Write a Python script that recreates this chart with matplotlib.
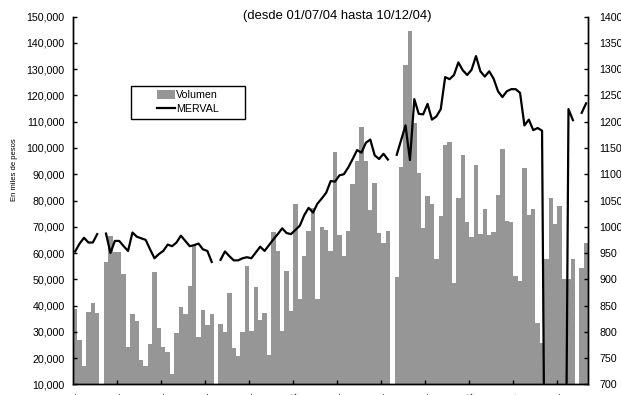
import numpy as np
import matplotlib.pyplot as plt
from matplotlib.patches import Rectangle, Patch
from matplotlib.lines import Line2D
from matplotlib.ticker import FuncFormatter, MultipleLocator

plt.rcParams['font.family'] = ['Liberation Sans', 'DejaVu Sans']

# Volumen diario (miles de pesos), 01/07/04 a 10/12/04; None = feriado
volumen = [
    38700, 26900, 17000, 37500, 41000, 37200, None, 56500, 66500, 60400,
    60400, 52000, 24200, 36800, 34100, 19300, 17000, 25500, 52800, 31400,
    24300, 22400, 13900, 29500, 39500, 36900, 47400, 63000, 28000, 38300,
    32600, 36800, None, 33000, 29900, 44800, 23900, 20900, 29900, 55000,
    30300, 47000, 34500, 37100, 21200, 68000, 60800, 30300, 53100, 37900,
    78700, 42500, 58900, 68400, 77300, 42500, 69900, 68800, 60900, 98500,
    66800, 58900, 68400, 86300, 95100, 107900, 95000, 76400, 86600, 67500,
    63800, 68400, None, 50900, 92700, 131600, 144500, 109500, 90500, 69500,
    81700, 78700, 57700, 74100, 101100, 102300, 48600, 80900, 97300, 71800,
    66100, 93500, 67200, 76800, 66900, 68000, 82100, 99600, 72200, 71800,
    51200, 49300, 92400, 74500, 76800, 33400, 25700, 57700, 80900, 71200,
    77900, 50000, 50000, 57700, None, 54300, 63800,
]

# Indice MERVAL (cierre diario)
merval = [
    953, 968, 979, 970, 970, 986, None, 987, 950, 973,
    973, 963, 954, 989, 981, 978, 975, 957, 940, 948,
    954, 966, 963, 970, 983, 973, 963, 965, 968, 957,
    954, 933, None, 937, 953, 944, 936, 936, 940, 942,
    940, 951, 962, 954, 965, 976, 986, 997, 988, 986,
    994, 1002, 1022, 1036, 1027, 1044, 1054, 1065, 1087, 1086,
    1098, 1100, 1113, 1129, 1146, 1141, 1160, 1166, 1136, 1129,
    1139, 1128, None, 1137, 1165, 1193, 1127, 1243, 1215, 1214,
    1234, 1204, 1210, 1224, 1285, 1281, 1289, 1313, 1298, 1289,
    1299, 1325, 1296, 1286, 1296, 1282, 1258, 1247, 1258, 1262,
    1262, 1255, 1193, 1204, 1184, 1188, 1183, 0, 0, 0,
    0, 0, 1224, 1203, None, 1217, 1235,
]

fechas_ticks = ["01/07/04", "15/07/04", "29/07/04", "12/08/04", "26/08/04",
                "09/09/04", "23/09/04", "07/10/04", "21/10/04", "04/11/04",
                "18/11/04", "02/12/04"]

vol = np.array(volumen, dtype=float)
mer = np.array(merval, dtype=float)
x = np.arange(len(vol))

fig = plt.figure(figsize=(6.21, 3.95), dpi=100)
ax = fig.add_axes([73 / 621, 1 - 384.3 / 395, (588.3 - 73) / 621, (384.3 - 16.7) / 395])

ax.bar(x, vol, width=1.0, color='#969696', linewidth=0)
ax.set_xlim(-0.5, len(x) - 0.5)
ax.set_ylim(10000, 150000)
ax.yaxis.set_major_locator(MultipleLocator(10000))
ax.yaxis.set_major_formatter(FuncFormatter(lambda v, p: f"{v:,.0f}"))

# ticks between categories every 10, date labels centred on the category
ax.set_xticks(np.arange(9.5, len(x) - 1, 10))
ax.set_xticklabels([])
ax.set_xticks(np.arange(0, len(x), 10), minor=True)
ax.set_xticklabels(fechas_ticks, minor=True, rotation=90)
ax.tick_params(axis='x', which='major', direction='in', length=3, width=1)
ax.tick_params(axis='x', which='minor', length=0, pad=5.5, labelsize=7.7)
ax.tick_params(axis='y', direction='in', length=3, width=1, labelsize=7.7, pad=6)

ax2 = ax.twinx()
ax2.plot(x, mer, color='black', lw=1.6)
ax2.set_ylim(700, 1400)
ax2.yaxis.set_major_locator(MultipleLocator(50))
ax2.tick_params(axis='y', direction='in', length=3, width=1, labelsize=7.7, pad=8)

for a in (ax, ax2):
    a.spines['top'].set_visible(False)
    for s in ('left', 'right', 'bottom'):
        a.spines[s].set_linewidth(1.0)

handles = [Patch(facecolor='#969696', edgecolor='none'),
           Line2D([], [], color='black', lw=1.6)]
ax2.legend(handles, ['Volumen', 'MERVAL'], frameon=False, loc='upper left',
           bbox_to_anchor=(157 / 621, 1 - 90 / 395), bbox_transform=fig.transFigure,
           fontsize=7.7, handlelength=1.7, handleheight=0.85, handletextpad=0.1,
           borderpad=0, labelspacing=0.35, borderaxespad=0)
fig.add_artist(Rectangle((131 / 621, 1 - 119.3 / 395), 114 / 621, 33.6 / 395,
                         transform=fig.transFigure, fill=False,
                         edgecolor='black', lw=1.0))

fig.text(337.5 / 621, 1 - 16.5 / 395, "(desde 01/07/04 hasta 10/12/04)",
         ha='center', va='center', fontsize=9.4)
fig.text(14 / 621, 1 - 170 / 395, "En miles de pesos", rotation=90,
         ha='center', va='center', fontsize=5.5)

fig.savefig("out.png", dpi=100)
